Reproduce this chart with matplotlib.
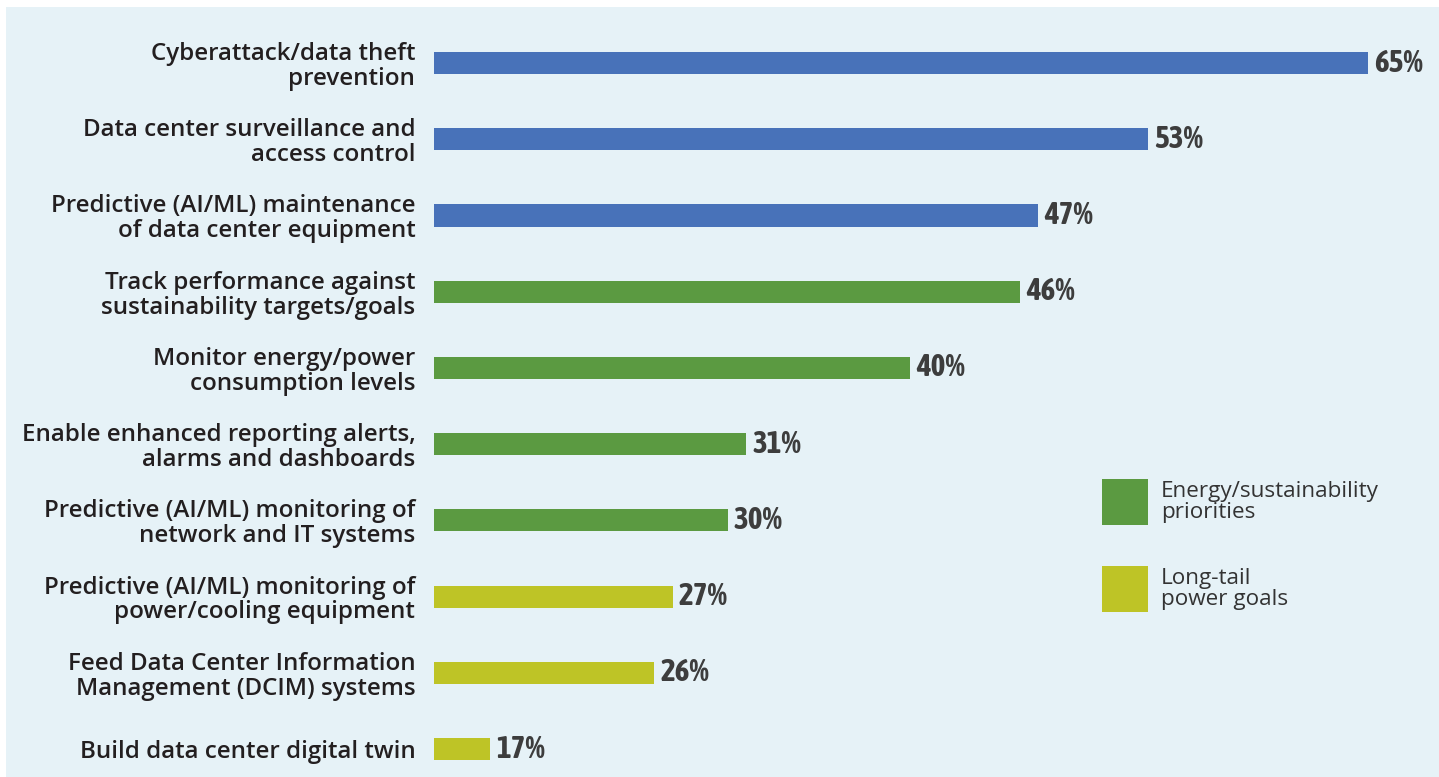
import matplotlib
matplotlib.use('Agg')
import matplotlib.pyplot as plt
from matplotlib import font_manager
from matplotlib.patches import Rectangle

labels = ['Cyberattack/data theft\nprevention',
          'Data center surveillance and\naccess control',
          'Predictive (AI/ML) maintenance\nof data center equipment',
          'Track performance against\nsustainability targets/goals',
          'Monitor energy/power\nconsumption levels',
          'Enable enhanced reporting alerts,\nalarms and dashboards',
          'Predictive (AI/ML) monitoring of\nnetwork and IT systems',
          'Predictive (AI/ML) monitoring of\npower/cooling equipment',
          'Feed Data Center Information\nManagement (DCIM) systems',
          'Build data center digital twin']
values = [65, 53, 47, 46, 40, 31, 30, 27, 26, 17]
groups = ['security', 'security', 'security', 'energy', 'energy', 'energy',
          'energy', 'longtail', 'longtail', 'longtail']

colors = {'security': '#4872b9', 'energy': '#5b9a41', 'longtail': '#bec426'}
legend_items = [('energy', 'Energy/sustainability\npriorities'),
                ('longtail', 'Long-tail\npower goals')]

# look for a narrow bold face for the value labels
narrow = None
for f in font_manager.fontManager.ttflist:
    if ('Narrow' in f.name or 'Condensed' in f.name) and f.weight in (700, 'bold'):
        narrow = f.name
        break
if narrow is None:
    for f in font_manager.fontManager.ttflist:
        if f.stretch in ('condensed', 'semi-condensed', 'extra-condensed', 'ultra-condensed'):
            narrow = f.name
            break
if narrow:
    val_font = dict(family=[narrow, 'DejaVu Sans'], fontsize=22.5)
else:
    val_font = dict(family=['Roboto', 'DejaVu Sans'], fontsize=18)

W, H = 1439, 777
bg = '#e6f2f7'
fig = plt.figure(figsize=(W / 100, H / 100), dpi=100, facecolor='white')
fig.add_artist(Rectangle((6 / W, 0), 1, 1 - 7 / H, transform=fig.transFigure,
                         facecolor=bg, edgecolor='none', zorder=0))

ax = fig.add_axes([434 / W, 0, (W - 434) / W, 1])
ax.set_facecolor('none')
ypos = list(range(len(values)))
ax.barh(ypos, values, height=0.29, color=[colors[g] for g in groups], zorder=2)
ax.set_xlim(13.95, 68.9)
ax.set_ylim(9.367, -0.827)

for y, v in zip(ypos, values):
    ax.annotate(f'{v}%', (v, y), xytext=(4.5, 0), textcoords='offset points',
                va='center', ha='left', fontweight='bold', color='#3d3d3d',
                **val_font)

ax.set_yticks(ypos)
ax.set_yticklabels(labels, fontsize=17.4, fontweight='semibold',
                   family=['Open Sans', 'DejaVu Sans'], color='#231f20',
                   linespacing=1.05)
ax.tick_params(axis='y', length=0, pad=13.5)
ax.set_xticks([])
for s in ax.spines.values():
    s.set_visible(False)

# legend
for i, (g, txt) in enumerate(legend_items):
    top = 479 + i * 87
    fig.add_artist(Rectangle((1102 / W, 1 - (top + 46) / H), 46 / W, 46 / H,
                             transform=fig.transFigure, facecolor=colors[g],
                             edgecolor='none'))
    fig.text(1161 / W, 1 - (top + 23) / H, txt, fontsize=16.2, color='#333333',
             family=['Open Sans', 'DejaVu Sans'], va='center', ha='left',
             linespacing=1.05)

fig.savefig('out.png', dpi=100, facecolor='white')
